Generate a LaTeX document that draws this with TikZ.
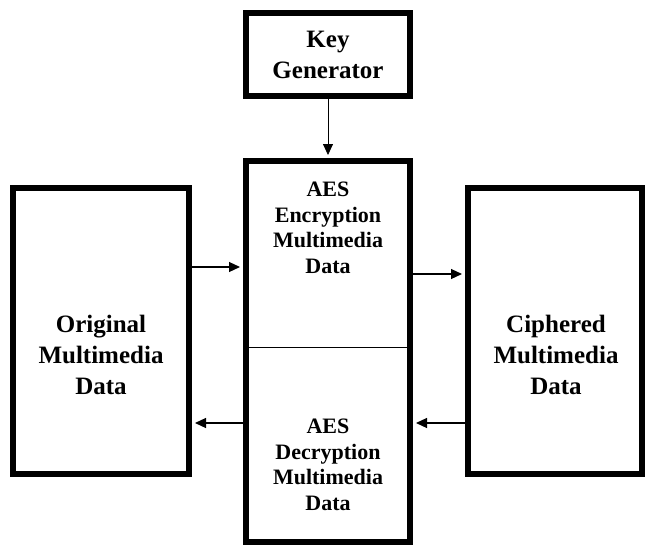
\documentclass[tikz,border=0pt]{standalone}
\usepackage{fontspec}
\setmainfont{Liberation Serif}
\usetikzlibrary{arrows.meta,positioning}

\begin{document}
\begin{tikzpicture}[x=1pt,y=1pt,>={Triangle[length=11pt,width=10pt]},shorten >=3pt,
  box/.style={draw,line width=6pt,inner sep=0pt},
  big text/.style={align=center,font=\fontsize{25}{31}\selectfont\bfseries},
  small text/.style={align=center,font=\fontsize{22}{25.5}\selectfont\bfseries}]
\useasboundingbox (0,0) rectangle (649,-546);
\node[box,minimum width=164,minimum height=83,big text] (keygen) at (328,-54.5) {Key\\Generator};
\node[box,minimum width=164,minimum height=381] (aes) at (328,-351.5) {};
\node[small text] (enc) at (328,-228) {AES\\Encryption\\Multimedia\\Data};
\node[small text] (dec) at (328,-465) {AES\\Decryption\\Multimedia\\Data};
\node[box,minimum width=176,minimum height=286] (orig) at (101,-331) {};
\node[big text] (origtext) at (101,-355) {Original\\Multimedia\\Data};
\node[box,minimum width=174,minimum height=286] (ciph) at (555,-331) {};
\node[big text] (ciphtext) at (556,-355) {Ciphered\\Multimedia\\Data};
% split line and arrow levels
\coordinate (split) at (0,-347);
\coordinate (inl) at (0,-267);
\coordinate (inr) at (0,-274);
\coordinate (back) at (0,-423);
\draw[line width=1pt] (aes.west |- split) -- (aes.east |- split);
\path[->,line width=1.2pt]
  (orig.east |- inl) edge (aes.west |- inl)
  (aes.east |- inr) edge (ciph.west |- inr)
  (ciph.west |- back) edge (aes.east |- back)
  (aes.west |- back) edge (orig.east |- back)
  ;
\path[->,line width=0.8pt] (keygen) edge (aes);
\end{tikzpicture}
\end{document}
